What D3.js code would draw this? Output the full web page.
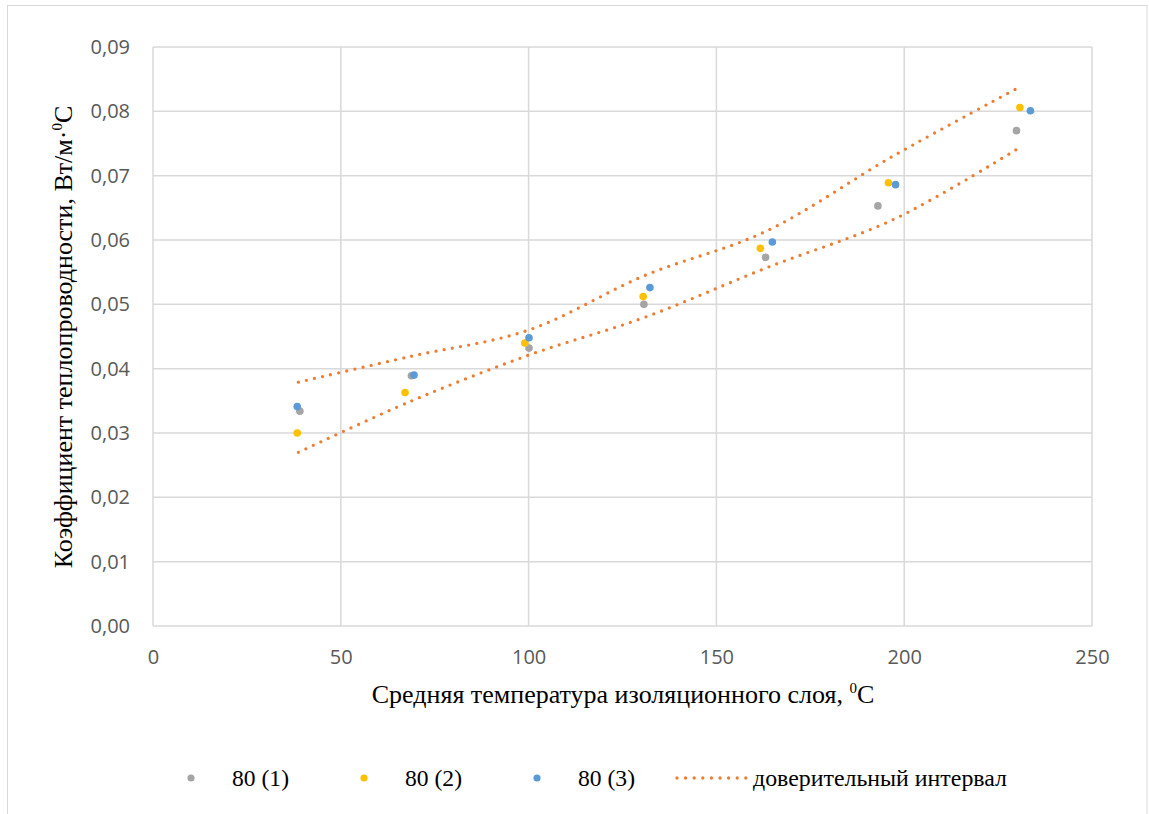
<!DOCTYPE html>
<html><head><meta charset="utf-8">
<script src="https://cdn.jsdelivr.net/npm/d3@7"></script>
<style>body{margin:0;background:#fff}svg{display:block}</style>
</head><body>
<svg id="c" width="1149" height="814"></svg>
<script>
const xTicks = [0, 50, 100, 150, 200, 250];
const yTicks = [0, 0.01, 0.02, 0.03, 0.04, 0.05, 0.06, 0.07, 0.08, 0.09];
const seriesNames = ["80 (1)", "80 (2)", "80 (3)"];
const seriesColors = ["#A5A5A5", "#FFC000", "#5B9BD5"];
const s1x = [39.1, 68.8, 100.1, 130.7, 163.1, 193.0, 229.9];
const s1y = [0.0334, 0.0389, 0.0432, 0.0500, 0.0573, 0.0653, 0.0770];
const s2x = [38.4, 67.1, 99.0, 130.5, 161.7, 195.8, 230.8];
const s2y = [0.0300, 0.0363, 0.0440, 0.0512, 0.0587, 0.0689, 0.0806];
const s3x = [38.4, 69.5, 100.1, 132.3, 164.9, 197.7, 233.6];
const s3y = [0.0341, 0.0390, 0.0448, 0.0526, 0.0597, 0.0686, 0.0801];
const ciName = "доверительный интервал";
const ciX = [38.7, 68.5, 100, 131, 163, 197.5, 230.8];
const ciUpper = [0.0379, 0.0419, 0.0460, 0.0545, 0.0613, 0.0732, 0.0838];
const ciLower = [0.0270, 0.0349, 0.0421, 0.0480, 0.0556, 0.0633, 0.0744];
const xTitle = "Средняя температура изоляционного слоя, ";
const yTitle = "Коэффициент теплопроводности, Вт/м·";

const svg = d3.select("#c");
const x = d3.scaleLinear().domain([0, 250]).range([153, 1092]);
const y = d3.scaleLinear().domain([0, 0.09]).range([626, 47]);
const fmt = v => d3.format(".2f")(v).replace(".", ",");

// outer border
svg.append("rect").attr("x", 7.5).attr("y", 5.5).attr("width", 1139.5).attr("height", 830)
  .attr("fill", "#fff").attr("stroke", "#D9D9D9").attr("stroke-width", 1);

// grid
svg.append("g").selectAll("line").data(yTicks).join("line")
  .attr("x1", x(0)).attr("x2", x(250)).attr("y1", d => y(d)).attr("y2", d => y(d))
  .attr("stroke", "#D9D9D9").attr("stroke-width", 1.5);
svg.append("g").selectAll("line").data(xTicks).join("line")
  .attr("y1", y(0)).attr("y2", y(0.09)).attr("x1", d => x(d)).attr("x2", d => x(d))
  .attr("stroke", "#D9D9D9").attr("stroke-width", 1.5);

// axes labels via d3 axes
const ax = svg.append("g").attr("transform", `translate(0,${y(0)})`)
  .call(d3.axisBottom(x).tickValues(xTicks).tickSize(0).tickPadding(24).tickFormat(d3.format("d")));
const ay = svg.append("g").attr("transform", `translate(${x(0)},0)`)
  .call(d3.axisLeft(y).tickValues(yTicks).tickSize(0).tickPadding(23).tickFormat(fmt));
[ax, ay].forEach(g => {
  g.select(".domain").remove();
  g.selectAll("text").attr("font-family", "'Open Sans', sans-serif").attr("font-size", 20).attr("fill", "#595959");
});

// titles
const xt = svg.append("text").attr("x", 623).attr("y", 703).attr("text-anchor", "middle")
  .attr("font-family", "'Liberation Serif', 'Times New Roman', serif").attr("font-size", 26).attr("fill", "#000");
xt.append("tspan").text(xTitle);
xt.append("tspan").attr("font-size", 15).attr("dy", -10).text("0");
xt.append("tspan").attr("dy", 10).text("С");

const yt = svg.append("text").attr("transform", `translate(72,337) rotate(-90)`).attr("text-anchor", "middle")
  .attr("font-family", "'Liberation Serif', 'Times New Roman', serif").attr("font-size", 26).attr("fill", "#000");
yt.append("tspan").text(yTitle);
yt.append("tspan").attr("font-size", 15).attr("dy", -10).text("0");
yt.append("tspan").attr("dy", 10).text("С");

// CI lines
const line = d3.line().curve(d3.curveCatmullRom.alpha(0.5)).x(d => x(d[0])).y(d => y(d[1]));
[ciUpper, ciLower].forEach(arr => {
  svg.append("path").datum(ciX.map((v, i) => [v, arr[i]]))
    .attr("d", line).attr("fill", "none").attr("stroke", "#ED7D31")
    .attr("stroke-width", 3.3).attr("stroke-linecap", "round").attr("stroke-dasharray", "0 8.3");
});

// points
const series = [[s1x, s1y], [s2x, s2y], [s3x, s3y]];
series.forEach((s, k) => {
  svg.append("g").selectAll("circle").data(s[0].map((v, i) => [v, s[1][i]])).join("circle")
    .attr("cx", d => x(d[0])).attr("cy", d => y(d[1])).attr("r", 3.8).attr("fill", seriesColors[k]);
});

// legend
const lg = svg.append("g").attr("font-family", "'Liberation Serif', 'Times New Roman', serif").attr("font-size", 23);
const legX = [191, 364, 537];
seriesNames.forEach((n, k) => {
  lg.append("circle").attr("cx", legX[k]).attr("cy", 778).attr("r", 3.6).attr("fill", seriesColors[k]);
  lg.append("text").attr("x", legX[k] + 41).attr("y", 786).attr("textLength", 57).attr("lengthAdjust", "spacingAndGlyphs").text(n);
});
lg.append("line").attr("x1", 677).attr("x2", 746).attr("y1", 778).attr("y2", 778)
  .attr("stroke", "#ED7D31").attr("stroke-width", 3.3).attr("stroke-linecap", "round").attr("stroke-dasharray", "0 8.6");
lg.append("text").attr("x", 753).attr("y", 786).attr("textLength", 254).attr("lengthAdjust", "spacingAndGlyphs").text(ciName);
</script>
</body></html>
